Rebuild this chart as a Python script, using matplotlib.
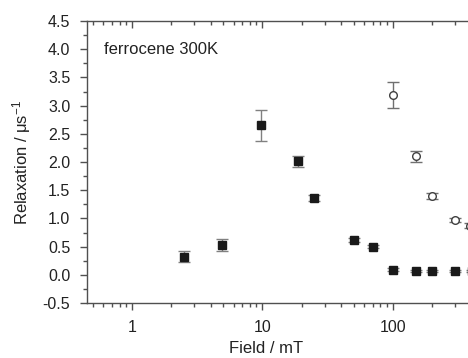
import matplotlib
matplotlib.use("Agg")
import matplotlib.pyplot as plt
from matplotlib.ticker import MultipleLocator, LogLocator, NullFormatter, FixedLocator, FixedFormatter

plt.rcParams['font.family'] = ['Liberation Sans', 'DejaVu Sans']
plt.rcParams['mathtext.fontset'] = 'custom'
plt.rcParams['mathtext.rm'] = 'Liberation Sans'
plt.rcParams['mathtext.it'] = 'Liberation Sans:italic'

# filled squares
field_sq = [2.5, 4.9, 9.8, 18.6, 25, 50, 70, 100, 150, 200, 300, 405]
relax_sq = [0.32, 0.53, 2.65, 2.01, 1.36, 0.62, 0.50, 0.09, 0.07, 0.07, 0.07, 0.07]
err_sq = [0.10, 0.10, 0.28, 0.10, 0.05, 0.03, 0.03, 0.03, 0.02, 0.02, 0.02, 0.02]

# open circles
field_ci = [100, 150, 200, 300, 395]
relax_ci = [3.18, 2.10, 1.40, 0.97, 0.87]
err_ci = [0.23, 0.10, 0.05, 0.04, 0.04]

x_ticks = [1, 10, 100]
x_ticklabels = ['1', '10', '100']

axis_col = '#505050'
fig = plt.figure(figsize=(4.68, 3.58), dpi=100)
ax = fig.add_axes([0.1859, 0.1536, 0.9316, 0.7877])

eb = ax.errorbar(field_sq, relax_sq, yerr=err_sq, fmt='s', color='#1a1a1a', ms=6.3,
                 ecolor='#808080', elinewidth=1, capsize=4.3, capthick=1, zorder=3)
for cap in eb[1]:
    cap.set_color('#a0a0a0')
eb2 = ax.errorbar(field_ci, relax_ci, yerr=err_ci, fmt='o', mfc='white', mec='#404040',
                  mew=1, ms=5.5, ecolor='#707070', elinewidth=1, capsize=4.3, capthick=1, zorder=3)
for cap in eb2[1]:
    cap.set_color('#909090')

ax.set_xscale('log')
ax.set_xlim(0.45, 1000)
ax.set_ylim(-0.5, 4.5)

ax.xaxis.set_major_locator(FixedLocator(x_ticks))
ax.xaxis.set_major_formatter(FixedFormatter(x_ticklabels))
ax.xaxis.set_minor_locator(LogLocator(base=10, subs=[2, 3, 4, 5, 6, 7, 8, 9]))
ax.xaxis.set_minor_formatter(NullFormatter())
ax.yaxis.set_major_locator(MultipleLocator(0.5))
ax.yaxis.set_minor_locator(MultipleLocator(0.25))
ax.yaxis.set_major_formatter(plt.FuncFormatter(lambda v, p: '%.1f' % v))

for s in ax.spines.values():
    s.set_color(axis_col)
    s.set_linewidth(1)
ax.tick_params(axis='both', which='both', direction='out', colors=axis_col,
               labelcolor='#222222', labelsize=11.5)
ax.tick_params(axis='both', which='major', length=5, width=1)
ax.tick_params(axis='both', which='minor', length=3, width=1)
ax.tick_params(axis='x', which='major', pad=7)
ax.tick_params(axis='y', which='major', pad=7)

# mirrored top ticks pointing inward
ax2 = ax.twiny()
ax2.set_xscale('log')
ax2.set_xlim(ax.get_xlim())
ax2.xaxis.set_major_locator(FixedLocator(x_ticks))
ax2.xaxis.set_minor_locator(LogLocator(base=10, subs=[2, 3, 4, 5, 6, 7, 8, 9]))
ax2.tick_params(axis='x', which='both', direction='in', colors=axis_col, labeltop=False)
ax2.tick_params(axis='x', which='major', length=5, width=1)
ax2.tick_params(axis='x', which='minor', length=3, width=1)
for s in ax2.spines.values():
    s.set_visible(False)

ax.set_xlabel('Field / mT', fontsize=12, color='#222222')
ax.xaxis.set_label_coords(0.41, -0.16)
ax.xaxis.label.set_va('center')
ax.set_ylabel(r'Relaxation / μs$^{-1}$', fontsize=12, color='#222222')
ax.yaxis.set_label_coords(-0.151, 0.5)
ax.yaxis.label.set_va('center')

ax.text(0.039, 0.90, 'ferrocene 300K', transform=ax.transAxes, fontsize=12,
        color='#222222', va='center', ha='left')

fig.savefig('out.png', dpi=100)
